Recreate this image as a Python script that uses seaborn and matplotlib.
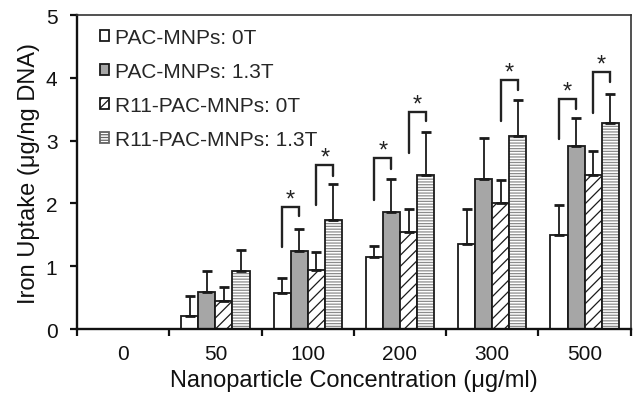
import numpy as np
import pandas as pd
import matplotlib
matplotlib.use("Agg")
import matplotlib.pyplot as plt
from matplotlib.patches import Patch, Rectangle
import seaborn as sns

sns.set_theme(style="white")
plt.rcParams['font.family'] = ['Liberation Sans', 'DejaVu Sans']
plt.rcParams['hatch.linewidth'] = 0.9

# data
concentrations = ["0", "50", "100", "200", "300", "500"]
groups = ["PAC-MNPs: 0T", "PAC-MNPs: 1.3T", "R11-PAC-MNPs: 0T", "R11-PAC-MNPs: 1.3T"]

pac_0t = [0.0, 0.20, 0.57, 1.14, 1.35, 1.49]
pac_13t = [0.0, 0.59, 1.24, 1.86, 2.39, 2.91]
r11_0t = [0.0, 0.45, 0.94, 1.55, 2.01, 2.45]
r11_13t = [0.0, 0.92, 1.74, 2.46, 3.08, 3.28]

pac_0t_err = [np.nan, 0.32, 0.25, 0.18, 0.56, 0.49]
pac_13t_err = [np.nan, 0.34, 0.36, 0.53, 0.65, 0.45]
r11_0t_err = [np.nan, 0.22, 0.29, 0.36, 0.37, 0.39]
r11_13t_err = [np.nan, 0.34, 0.57, 0.68, 0.56, 0.47]

# significance brackets: (category, bar a, bar b, left leg bottom, top, right leg bottom)
brackets = [
    (2, 0, 1, 1.30, 1.95, 1.80),
    (2, 2, 3, 1.97, 2.61, 2.44),
    (3, 0, 1, 2.05, 2.72, 2.55),
    (3, 2, 3, 2.81, 3.46, 3.32),
    (4, 2, 3, 3.32, 3.97, 3.81),
    (5, 0, 1, 3.03, 3.67, 3.51),
    (5, 2, 3, 3.44, 4.10, 3.94),
]

means = [pac_0t, pac_13t, r11_0t, r11_13t]
errs = [pac_0t_err, pac_13t_err, r11_0t_err, r11_13t_err]

df = pd.DataFrame({
    "conc": np.tile(concentrations, len(groups)),
    "group": np.repeat(groups, len(concentrations)),
    "uptake": np.concatenate(means),
})

fills = ["white", "#a6a6a6", "white", "white"]
hatches = [None, None, "///", "------"]
edge = "#1a1a1a"

fig, ax = plt.subplots(figsize=(6.41, 4.02), dpi=100)
fig.subplots_adjust(left=0.120, right=0.984, bottom=0.179, top=0.960)

sns.barplot(data=df, x="conc", y="uptake", hue="group", order=concentrations,
            hue_order=groups, palette=fills, errorbar=None, width=0.74,
            edgecolor=edge, linewidth=1.3, saturation=1, legend=False, ax=ax)

bar_containers = list(ax.containers)
centers = {}
for gi, cont in enumerate(bar_containers):
    for ci, bar in enumerate(cont.patches):
        bar.set_facecolor(fills[gi])
        cx = bar.get_x() + bar.get_width() / 2
        centers[(ci, gi)] = cx
        if means[gi][ci] == 0:
            bar.set_visible(False)
            continue
        if gi == 2:
            bar.set_hatch(hatches[gi])
        if gi == 3:
            bar.set_hatch(hatches[gi])
            bar.set_edgecolor("#8c8c8c")
            bar.set_linewidth(0)
            ax.add_patch(Rectangle((bar.get_x(), 0), bar.get_width(), bar.get_height(),
                                   fill=False, edgecolor=edge, linewidth=1.3, zorder=bar.get_zorder() + 0.1))
        err = errs[gi][ci]
        if not np.isnan(err):
            ax.errorbar(cx, means[gi][ci], yerr=[[0], [err]], fmt="none",
                        ecolor=edge, elinewidth=1.3, capsize=3.5, capthick=2, zorder=1)

for ci, a, b, yl, yt, yr in brackets:
    xa, xb = centers[(ci, a)], centers[(ci, b)]
    ax.plot([xa, xa, xb, xb], [yl, yt, yt, yr], color="#222222", lw=1.7, solid_joinstyle="miter")
    ax.text((xa + xb) / 2, yt - 0.06, "*", ha="center", va="bottom", fontsize=17, color="#222222")

ax.set_ylim(0, 5)
ax.set_xlim(-0.5, len(concentrations) - 0.5)
ax.set_yticks(range(6))
ax.set_xticks(range(len(concentrations)))
ax.set_xticklabels(concentrations)
ax.set_xticks(np.arange(-0.5, len(concentrations)), minor=True)
ax.tick_params(axis="x", which="major", length=0, labelsize=15, pad=11, colors="#111111")
ax.tick_params(axis="x", which="minor", direction="out", length=5, width=1.6, bottom=True, color="#111111")
ax.tick_params(axis="y", direction="out", length=5, width=1.6, left=True, labelsize=15, pad=9, colors="#111111")

for side in ["left", "bottom"]:
    ax.spines[side].set_color("#111111")
    ax.spines[side].set_linewidth(1.7)
for side in ["top", "right"]:
    ax.spines[side].set_color("#333333")
    ax.spines[side].set_linewidth(1.2)

ax.set_xlabel("Nanoparticle Concentration (μg/ml)", fontsize=17, labelpad=4, color="#111111")
ax.set_ylabel("Iron Uptake (μg/ng DNA)", fontsize=17, labelpad=4, color="#111111")

handles = [
    Patch(facecolor="white", edgecolor=edge, linewidth=1.3),
    Patch(facecolor="#a6a6a6", edgecolor=edge, linewidth=1.3),
    Patch(facecolor="white", edgecolor=edge, linewidth=1.3, hatch="////"),
    Patch(facecolor="white", edgecolor="#666666", linewidth=1.3, hatch="------"),
]
ax.legend(handles, groups, loc="upper left", bbox_to_anchor=(0.026, 0.985), frameon=False,
          fontsize=15, handlelength=0.45, handleheight=0.45, handletextpad=0.3,
          labelspacing=0.72, borderaxespad=0)

plt.savefig("out.png", dpi=100)
plt.close()
